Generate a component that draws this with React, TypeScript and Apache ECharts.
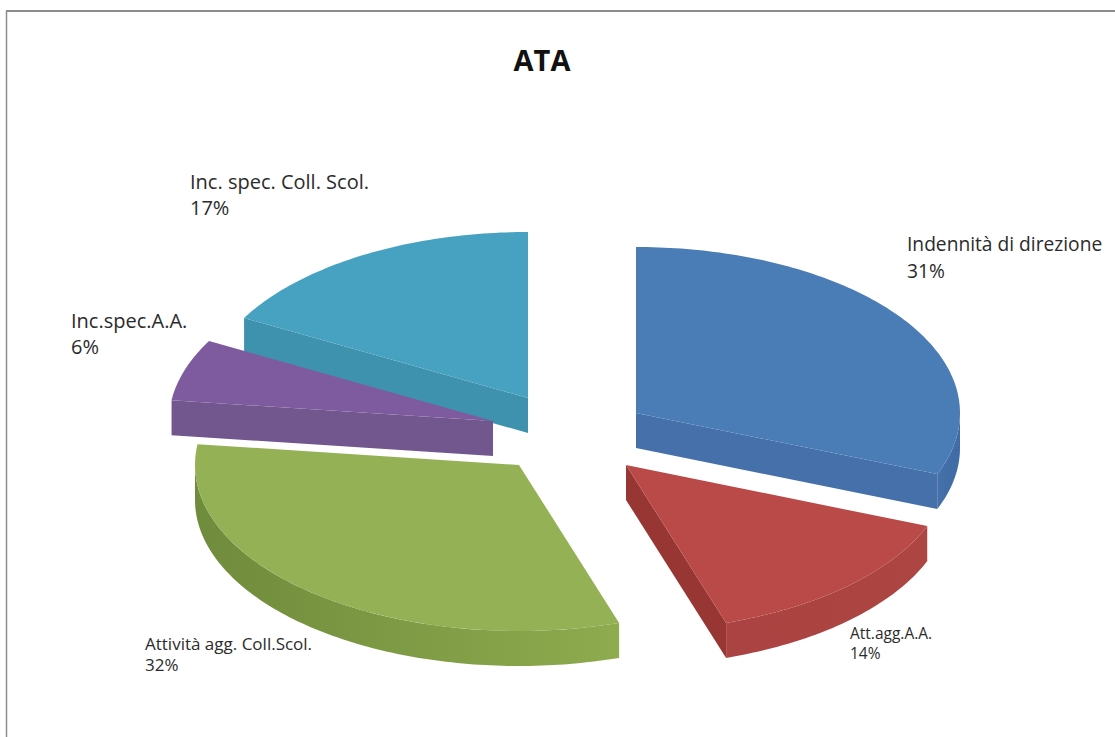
import React, { useEffect, useRef } from "react";
import * as echarts from "echarts";

// Slices of the ATA fund, clockwise from twelve o'clock.
const categories = [
  "Indennità di direzione",
  "Att.agg.A.A.",
  "Attività agg. Coll.Scol.",
  "Inc.spec.A.A.",
  "Inc. spec. Coll. Scol.",
];
const shares = [31, 14, 32, 6, 17];

// Pie geometry: projected ellipse, rim depth and centre.
const RX = 324;
const RY = 166;
const DEPTH = 35;
const CX = 566;
const CY = 437;

// Explosion vector of each slice, measured from the pie centre.
const explodeX = [70, 60, -47, -73, -38];
const explodeY = [-24, 28, 28, -16, -39];

// Painter's order: higher ranks are drawn over lower ones.
const paintRank = [2, 3, 4, 1, 0];

const topColors = ["#4a7cb6", "#b94a47", "#94b155", "#7e5b9e", "#46a2c0"];
const edgeColors = ["#4570a9", "#983634", "#7f9c45", "#72578f", "#3f92ae"];
const rimFrom = ["#4570a9", "#aa4341", "#6f8b3c", "#72578f", "#3f92ae"];
const rimTo = ["#3e6ca6", "#ad4542", "#8eab4e", "#72578f", "#3f92ae"];

// Label placement (left, top of first line), line height and type size.
const labelX = [907, 850, 145, 71, 190];
const labelY = [234, 625, 635, 310, 171];
const labelLine = [27, 20, 21, 26, 26];
const labelSize = [19.2, 15.5, 17, 20, 20];

const total = shares.reduce((a, b) => a + b, 0);

function rimPoint(cx: number, cy: number, deg: number, drop = 0): number[] {
  const t = (deg * Math.PI) / 180;
  return [cx + RX * Math.sin(t), cy - RY * Math.cos(t) + drop];
}

function arcPoints(cx: number, cy: number, from: number, to: number, drop = 0) {
  const pts: number[][] = [];
  const steps = Math.max(2, Math.ceil(Math.abs(to - from)));
  for (let i = 0; i <= steps; i++) {
    pts.push(rimPoint(cx, cy, from + ((to - from) * i) / steps, drop));
  }
  return pts;
}

function renderSlice(params: any, api: any) {
  const i = params.dataIndex;
  const before = shares.slice(0, i).reduce((a, b) => a + b, 0);
  const start = (before / total) * 360;
  const end = start + (api.value(0) / total) * 360;
  const ax = CX + explodeX[i];
  const ay = CY + explodeY[i];
  const base = paintRank[i] * 10;
  const children: any[] = [];

  const radialWall = (deg: number) => {
    const outer = rimPoint(ax, ay, deg);
    children.push({
      type: "polygon",
      z2: base + 1,
      shape: {
        points: [
          [ax, ay],
          outer,
          [outer[0], outer[1] + DEPTH],
          [ax, ay + DEPTH],
        ],
      },
      style: { fill: edgeColors[i] },
    });
  };

  // A flat side shows only when its outward normal points at the viewer.
  if (Math.cos(((start - 90) * Math.PI) / 180) < -1e-6) radialWall(start);
  if (Math.cos(((end + 90) * Math.PI) / 180) < -1e-6) radialWall(end);

  // The curved rim shows only on the front half of the ellipse.
  const rimStart = Math.max(start, 90);
  const rimEnd = Math.min(end, 270);
  if (rimEnd > rimStart) {
    const upper = arcPoints(ax, ay, rimStart, rimEnd);
    const lower = arcPoints(ax, ay, rimStart, rimEnd, DEPTH).reverse();
    children.push({
      type: "polygon",
      z2: base + 2,
      shape: { points: upper.concat(lower) },
      style: {
        fill: new echarts.graphic.LinearGradient(0, 0, 1, 0, [
          { offset: 0, color: rimFrom[i] },
          { offset: 1, color: rimTo[i] },
        ]),
      },
    });
  }

  children.push({
    type: "polygon",
    z2: base + 3,
    shape: { points: [[ax, ay], ...arcPoints(ax, ay, start, end)] },
    style: { fill: topColors[i] },
  });

  const percent = Math.round((api.value(0) / total) * 100) + "%";
  [categories[i], percent].forEach((line, n) => {
    children.push({
      type: "text",
      z2: 100,
      x: labelX[i],
      y: labelY[i] + n * labelLine[i],
      style: {
        text: line,
        fill: "#2b2b2b",
        fontFamily: "'Open Sans', sans-serif",
        fontSize: labelSize[i],
        textVerticalAlign: "top",
      },
    });
  });

  return { type: "group", children };
}

export default function App() {
  const ref = useRef<HTMLDivElement>(null);

  useEffect(() => {
    document.body.style.margin = "0";
    document.body.style.background = "#ffffff";
    const chart = echarts.init(ref.current!, null, { renderer: "svg" });
    chart.setOption({
      animation: false,
      backgroundColor: "#ffffff",
      title: {
        text: "ATA",
        left: 537,
        top: 40,
        textAlign: "center",
        textStyle: {
          fontFamily: "'Open Sans', sans-serif",
          fontWeight: "bold",
          fontSize: 29,
          color: "#111111",
        },
      },
      graphic: [
        {
          type: "line",
          shape: { x1: 6.5, y1: 11, x2: 6.5, y2: 737 },
          style: { stroke: "#8e8e8e", lineWidth: 1.5 },
        },
        {
          type: "line",
          shape: { x1: 6, y1: 11, x2: 1115, y2: 11 },
          style: { stroke: "#8c8c8c", lineWidth: 2 },
        },
      ],
      series: [
        {
          type: "custom",
          coordinateSystem: "none",
          renderItem: renderSlice,
          data: shares.map((v) => [v]),
          silent: true,
        },
      ],
    });
    return () => chart.dispose();
  }, []);

  return (
    <div
      ref={ref}
      style={{ position: "absolute", left: 0, top: 0, width: 1115, height: 737 }}
    />
  );
}
